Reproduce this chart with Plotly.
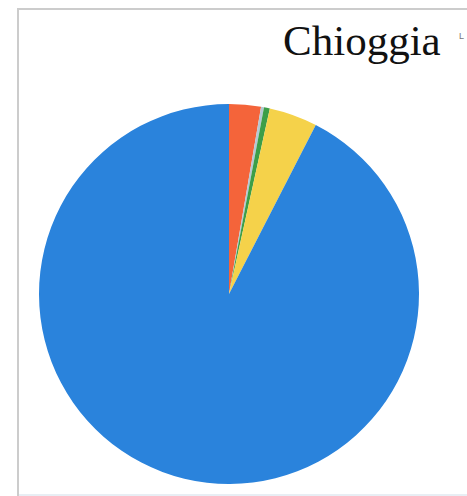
import plotly.graph_objects as go

W, H = 467, 496

categories = ["Categoria A", "Categoria B", "Categoria C", "Categoria D", "Categoria E"]
values = [2.7, 0.25, 0.5, 4.1, 92.45]
colors = ["#f4643a", "#b4c8d4", "#3c9e48", "#f5d24a", "#2a83dc"]

title_text = "Chioggia"

# pie geometry in pixels
cx, cy, r = 229, 294, 190

fig = go.Figure(go.Pie(
    labels=categories,
    values=values,
    marker=dict(colors=colors, line=dict(width=0)),
    sort=False,
    direction="clockwise",
    rotation=0,
    textinfo="none",
    hoverinfo="label+percent",
    showlegend=False,
    domain=dict(x=[(cx - r) / W, (cx + r) / W], y=[1 - (cy + r) / H, 1 - (cy - r) / H]),
))

def px_x(x):
    return x / W

def px_y(y):
    return 1 - y / H

fig.update_layout(
    width=W, height=H,
    margin=dict(l=0, r=0, t=0, b=0),
    paper_bgcolor="white",
    plot_bgcolor="white",
    shapes=[
        dict(type="line", xref="paper", yref="paper", x0=px_x(18), x1=px_x(18), y0=px_y(496), y1=px_y(9),
             line=dict(color="#cccccc", width=2)),
        dict(type="line", xref="paper", yref="paper", x0=px_x(17), x1=1, y0=px_y(9), y1=px_y(9),
             line=dict(color="#cccccc", width=2)),
        dict(type="line", xref="paper", yref="paper", x0=px_x(19), x1=1, y0=px_y(495), y1=px_y(495),
             line=dict(color="#e8eef4", width=2)),
    ],
    annotations=[
        dict(text=title_text, xref="paper", yref="paper", x=px_x(443), y=px_y(66),
             xanchor="right", yanchor="bottom", showarrow=False,
             font=dict(family="Liberation Serif, Times New Roman, serif", size=43, color="#111111")),
        dict(text="L", xref="paper", yref="paper", x=px_x(461), y=px_y(36),
             xanchor="center", yanchor="middle", showarrow=False,
             font=dict(family="Liberation Sans", size=9, color="#777777")),
    ],
)

fig.write_html("out.html",
               config={"displayModeBar": False},
               post_script="document.body.style.margin='0';document.body.style.overflow='hidden';")
